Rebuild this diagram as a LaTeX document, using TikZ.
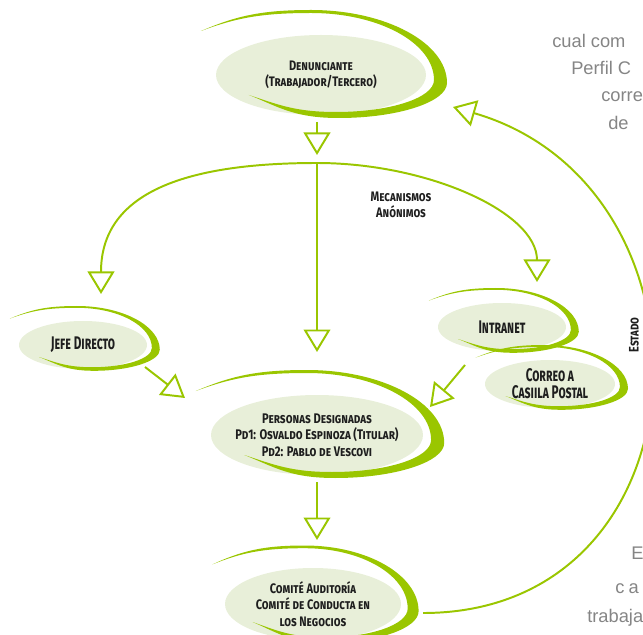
\documentclass[tikz,border=0pt]{standalone}
\usepackage{fontspec}
\usepackage{xcolor}
\usepackage{tikz}
\usetikzlibrary{shapes.geometric, arrows.meta, calc, backgrounds}
\newfontfamily\leaffont{Fira Sans}[FakeStretch=0.8]
\newfontfamily\bigleaffont{Fira Sans}[FakeStretch=0.64]
\newfontfamily\pagefont{Liberation Sans}
\definecolor{leafgreen}{HTML}{9AC600}
\definecolor{leaffill}{HTML}{E8EFD9}
\definecolor{ink}{HTML}{1E1E1E}
\definecolor{pagegray}{HTML}{858585}
\tikzstyle{lbl} = [align=center, text=ink, inner sep=1pt, font=\leaffont\bfseries\scshape\fontsize{9.8}{11.5}\selectfont]
\tikzstyle{biglbl} = [lbl, font=\bigleaffont\bfseries\scshape\fontsize{13}{12}\selectfont]
\tikzstyle{link} = [leafgreen, line width=1.4pt, -{Triangle[open, length=16pt, width=19pt]}]
\tikzstyle{pagetext} = [anchor=base west, inner sep=0pt, text=pagegray, font=\pagefont\fontsize{13}{15}\selectfont]
% pale ellipse with the green swoosh round it
\newcommand{\leaf}[3]{%
  \fill[leaffill] (#1.center) ellipse [x radius=#2, y radius=#3];
  \begin{scope}[shift={(#1.center)}, x=#2*0.025cm, y=-#3*0.025cm]
    \fill[leafgreen] (-1.143,-1.1) .. controls (-0.81,-1.475) and (-0.571,-1.625) .. (-0.095,-1.625)
      .. controls (0.619,-1.625) and (1.2,-0.8) .. (1.2,0.2)
      .. controls (1.2,0.675) and (0.733,1.075) .. (0.171,1.075)
      .. controls (-0.257,1.075) and (-0.4,0.8) .. (-0.686,0.5)
      .. controls (-0.4,0.75) and (-0.238,0.925) .. (0.143,0.925)
      .. controls (0.657,0.925) and (1.076,0.575) .. (1.076,0.125)
      .. controls (1.076,-0.8) and (0.552,-1.55) .. (-0.095,-1.55)
      .. controls (-0.571,-1.55) and (-0.81,-1.425) .. (-1.143,-1.1) -- cycle;
  \end{scope}}

\begin{document}
\begin{tikzpicture}[x=0.025cm, y=-0.025cm]
    \useasboundingbox (0,0) rectangle (643,635);

    % Nodes
    \node (den) [lbl] at (321,75) {Denunciante\\(Trabajador/Tercero)};
    \coordinate (split) at (317,163);
    \node (mec) [lbl] at (401,205) {Mecanismos\\Anónimos};
    \node (jefe) [biglbl] at (83,345) {Jefe Directo};
    \node (intranet) [biglbl] at (502,327) {Intranet};
    \node (correo) [biglbl] at (550,384) {Correo a\\Casiila Postal};
    \node (personas) [lbl, font=\leaffont\bfseries\scshape\fontsize{9.9}{11.7}\selectfont] at (317,435) {Personas Designadas\\Pd1: Osvaldo Espinoza (Titular)\\Pd2: Pablo de Vescovi};
    \node (comite) [lbl] at (313,604) {Comité Auditoría\\Comité de Conducta en\\los Negocios};
    \node (estado) [lbl, rotate=90] at (634,335) {Estado};

    % Leaves
    \begin{scope}[on background layer]
        \leaf{den}{105}{40}
        \leaf{jefe}{64}{24}
        \leaf{intranet}{64}{24}
        \leaf{correo}{65}{24}
        \leaf{personas}{106}{40}
        \leaf{comite}{88}{36}
    \end{scope}

    % Arrows
    \draw [link] ($(den.center)+(-4,47)$) -- ($(split)+(0,-8)$);
    \draw [link] (split) .. controls +(-135,0) and +(0,-100) .. ($(jefe.center)+(18,-51)$);
    \draw [link] (split) -- ($(personas.center)+(0,-83)$);
    \draw [link] (split) .. controls +(110,0) and +(0,-70) .. ($(intranet.center)+(35,-45)$);
    \draw [link] ($(jefe.center)+(62,22)$) -- ($(personas.center)+(-132,-37)$);
    \draw [link] ($(intranet.center)+(-37,38)$) -- ($(personas.center)+(113,-28)$);
    \draw [link] ($(personas.center)+(0,47)$) -- ($(comite.center)+(4,-64)$);
    \draw [link] ($(comite.center)+(110,9)$) .. controls +(290,0) and +(275,80) .. ($(den.center)+(132,32)$);

    % Page text cut by the edge
    \node (p1) [pagetext] at (552,48) {cual com};
    \node (p2) [pagetext] at (571,75) {Perfil C};
    \node (p3) [pagetext] at (601,102) {corre};
    \node (p4) [pagetext] at (608,130) {de};
    \node (p5) [pagetext] at (631,559) {E};
    \node (p6) [pagetext] at (615,593) {c\kern3pt a};
    \node (p7) [pagetext] at (587,622) {trabaja};

\end{tikzpicture}
\end{document}
